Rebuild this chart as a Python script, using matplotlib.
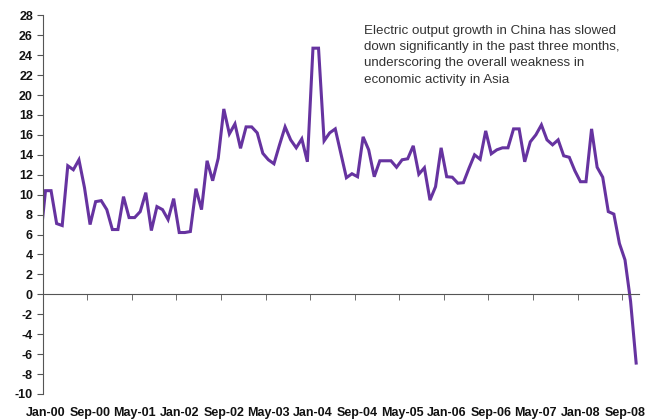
import numpy as np
import matplotlib
matplotlib.use("Agg")
import matplotlib.pyplot as plt

plt.rcParams['font.family'] = ['Liberation Sans', 'DejaVu Sans']
plt.rcParams['axes.unicode_minus'] = False

# monthly electric output growth, Dec-99 .. Nov-08 (Dec-99 is clipped off the axis)
months_idx = np.arange(-1, 107)
growth = [
    5.0,
    10.4, 10.4, 7.1, 6.9, 12.9, 12.5, 13.5, 10.7, 7.0, 9.3, 9.4, 8.5,
    6.5, 6.5, 9.8, 7.7, 7.7, 8.3, 10.2, 6.4, 8.8, 8.5,
    7.5, 9.6, 6.2, 6.2, 6.3, 10.6, 8.5, 13.4, 11.4, 13.65, 18.6, 16.1,
    17.1, 14.65, 16.8, 16.8, 16.2, 14.15, 13.5, 13.1,
    15.0, 16.8, 15.5, 14.7, 15.6, 13.3, 24.7, 24.7, 15.4, 16.2, 16.6, 14.15,
    11.7, 12.1, 11.8, 15.8, 14.5, 11.8, 13.4, 13.4, 13.4, 12.75,
    13.5, 13.6, 14.9, 12.05, 12.7, 9.45, 10.8, 14.7, 11.8, 11.75, 11.15, 11.2,
    12.65, 14.0, 13.55, 16.4, 14.1, 14.5, 14.7, 14.7, 16.6, 16.6,
    13.3, 15.3, 16.0, 17.0, 15.5, 15.0, 15.5, 13.9, 13.75, 12.4, 11.3, 11.3,
    16.6, 12.75, 11.75, 8.3, 8.05, 5.1, 3.45, -0.7, -6.9,
]
tick_labels = ["Jan-00", "Sep-00", "May-01", "Jan-02", "Sep-02", "May-03", "Jan-04",
               "Sep-04", "May-05", "Jan-06", "Sep-06", "May-07", "Jan-08", "Sep-08"]
note = ("Electric output growth in China has slowed\n"
        "down significantly in the past three months,\n"
        "underscoring the overall weakness in\n"
        "economic activity in Asia")

fig = plt.figure(figsize=(6.57, 4.20), dpi=100)
ax = fig.add_axes([0.065, 0.062, 0.9075, 0.9016])

ax.plot(months_idx, growth, color='#6633a0', linewidth=2.2, solid_joinstyle='miter')

ax.set_xlim(-0.5, 106.5)
ax.set_ylim(-10, 28)
ax.set_yticks(np.arange(-10, 29, 2))

axis_col = '#555555'
ax.spines['top'].set_visible(False)
ax.spines['right'].set_visible(False)
ax.spines['left'].set_color(axis_col)
ax.spines['bottom'].set_color(axis_col)
ax.spines['bottom'].set_position(('data', 0))

# labels centred on categories, tick marks on category boundaries
ax.set_xticks(np.arange(len(tick_labels)) * 8)
ax.set_xticklabels(tick_labels)
ax.set_xticks(np.arange(len(tick_labels)) * 8 - 0.5, minor=True)
ax.tick_params(axis='x', which='major', length=0, pad=81)
ax.tick_params(axis='x', which='minor', length=4, direction='out', color=axis_col)
ax.tick_params(axis='y', length=4, direction='out', color=axis_col, pad=3)
for lab in ax.get_xticklabels() + ax.get_yticklabels():
    lab.set_fontweight('bold')
    lab.set_fontsize(9)
    lab.set_color('#111111')

fig.text(0.554, 0.94, note, va='top', ha='left', fontsize=9.6,
         color='#333333', linespacing=1.46)

plt.savefig("out.png", dpi=100)
